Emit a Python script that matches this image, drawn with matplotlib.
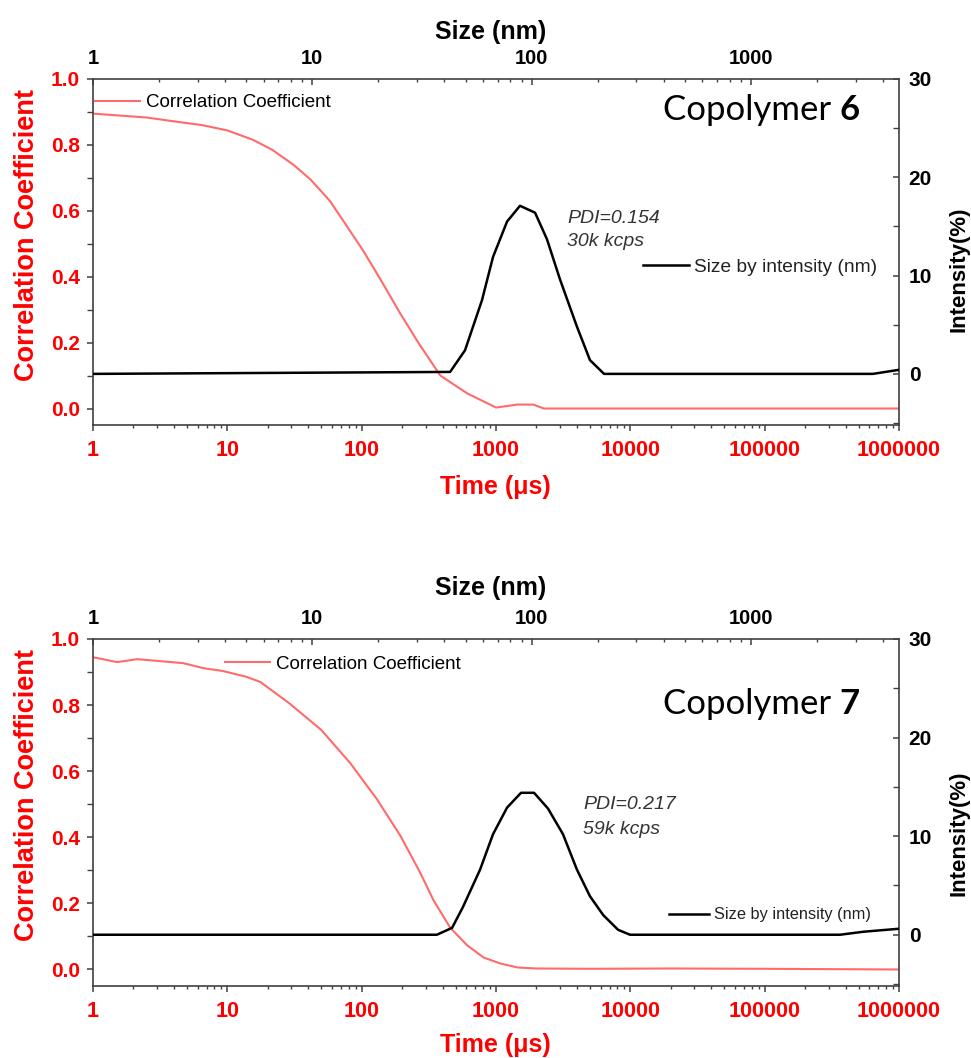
import numpy as np
import matplotlib
matplotlib.use("Agg")
import matplotlib.pyplot as plt
from matplotlib.ticker import FixedLocator, FixedFormatter, LogLocator, NullFormatter, MultipleLocator

# ---------------- data ----------------
# Copolymer 6 : correlation function vs time (us)
time6 = [1, 2.53, 4.08, 6.5, 10, 15.6, 21.6, 31, 41.6, 58, 78, 103, 137, 194,
         264, 385, 610, 1000, 1450, 1900, 2270, 8000, 1000000]
corr6 = [0.895, 0.883, 0.871, 0.860, 0.844, 0.815, 0.785, 0.740, 0.695, 0.630,
         0.552, 0.478, 0.394, 0.288, 0.200, 0.100, 0.046, 0.003, 0.012, 0.012,
         0.000, 0.000, 0.000]
# Copolymer 6 : size distribution by intensity
size6 = [1, 42.5, 49.7, 59.4, 66.7, 77.3, 88.5, 103.7, 117.5, 134.8, 161,
         184.6, 214, 3600, 4690]
int6 = [0, 0.2, 2.4, 7.5, 11.9, 15.5, 17.1, 16.4, 13.7, 9.6, 4.8, 1.4, 0, 0, 0.4]

# Copolymer 7 : correlation function vs time (us)
time7 = [1, 1.51, 2.13, 3.16, 4.68, 6.6, 9.3, 14, 17.6, 29, 50, 82, 130, 194,
         275, 342, 455, 610, 810, 1080, 1450, 2000, 5000, 20000, 100000, 1000000]
corr7 = [0.945, 0.930, 0.939, 0.933, 0.927, 0.912, 0.903, 0.885, 0.870, 0.805,
         0.725, 0.625, 0.515, 0.405, 0.290, 0.210, 0.127, 0.073, 0.036, 0.018,
         0.006, 0.003, 0.002, 0.003, 0.002, 0.000]
# Copolymer 7 : size distribution by intensity
size7 = [1, 37, 43.4, 48.6, 58.2, 66.7, 77.3, 89.5, 102.6, 118.8, 139, 161,
         184.6, 212, 248, 281, 2550, 3245, 4690]
int7 = [0, 0, 0.7, 2.8, 6.6, 10.2, 12.9, 14.4, 14.4, 12.8, 10.2, 6.6, 3.9,
        2.0, 0.5, 0, 0, 0.3, 0.6]

panels = [
    dict(time=time6, corr=corr6, size=size6, inten=int6, name="6",
         pdi="PDI=0.154", kcps="30k kcps"),
    dict(time=time7, corr=corr7, size=size7, inten=int7, name="7",
         pdi="PDI=0.217", kcps="59k kcps"),
]

time_ticks = [1, 10, 100, 1000, 10000, 100000, 1000000]
time_labels = ["1", "10", "100", "1000", "10000", "100000", "1000000"]
size_ticks = [1, 10, 100, 1000]
size_labels = ["1", "10", "100", "1000"]
corr_ticks = [0.0, 0.2, 0.4, 0.6, 0.8, 1.0]
corr_labels = ["0.0", "0.2", "0.4", "0.6", "0.8", "1.0"]
int_ticks = [0, 10, 20, 30]
int_labels = ["0", "10", "20", "30"]

# ---------------- style ----------------
FONT = "Liberation Sans"
RED_TXT = "#ff0000"
RED_LINE = "#ff6b6b"
SPINE = "#404040"

plt.rcParams["font.family"] = [FONT, "DejaVu Sans"]

fig = plt.figure(figsize=(9.71, 10.58), dpi=100)

W, H = 971, 1058
def rect(l, t, r, b):
    return [l / W, 1 - b / H, (r - l) / W, (b - t) / H]

rects = [rect(93, 79, 899, 425), rect(93, 639, 899, 986)]
copoly_pos = [(0.707, 0.910), (0.707, 0.813)]
pdi_pos = [(0.588, 0.598, 0.529), (0.608, 0.522, 0.452)]
leg_red = [(0.0025, 0.931), (0.164, 0.928)]
leg_blk = [(0.682, 0.457), (0.715, 0.205)]
leg_blk_fs = [13.8, 11.8]
left_lab_y = [0.55, 0.55]
right_lab_y = [0.45, 0.44]
time_lab_y = [-0.145, -0.136]
size_lab_y = [1.116, 1.128]

renderer = fig.canvas.get_renderer()

for i, p in enumerate(panels):
    ax = fig.add_axes(rects[i])
    ax2 = fig.add_axes(rects[i], frameon=False)

    # correlation (bottom x / left y)
    ax.plot(p["time"], p["corr"], color=RED_LINE, lw=1.5,
            label="Correlation Coefficient")
    ax.set_xscale("log")
    ax.set_xlim(1, 1e6)
    ax.set_ylim(-0.05, 1.0)
    ax.xaxis.set_major_locator(FixedLocator(time_ticks))
    ax.xaxis.set_major_formatter(FixedFormatter(time_labels))
    ax.xaxis.set_minor_locator(LogLocator(base=10, subs=np.arange(2, 10), numticks=20))
    ax.xaxis.set_minor_formatter(NullFormatter())
    ax.yaxis.set_major_locator(FixedLocator(corr_ticks))
    ax.yaxis.set_major_formatter(FixedFormatter(corr_labels))
    ax.yaxis.set_minor_locator(MultipleLocator(0.1))
    for s in ax.spines.values():
        s.set_color(SPINE)
        s.set_linewidth(1.2)
    ax.tick_params(axis="x", which="major", direction="out", length=4.5, width=1.1,
                   color=SPINE, labelsize=15.5, labelcolor=RED_TXT, pad=6)
    ax.tick_params(axis="x", which="minor", direction="out", length=2.5, width=1.0,
                   color=SPINE)
    ax.tick_params(axis="y", which="major", direction="out", length=4.5, width=1.1,
                   color=SPINE, labelsize=15, labelcolor=RED_TXT, pad=5)
    ax.tick_params(axis="y", which="minor", direction="out", length=4.5, width=1.0,
                   color=SPINE)
    for lab in ax.get_xticklabels() + ax.get_yticklabels():
        lab.set_fontweight("bold")
    ax.set_xlabel("Time (μs)", color=RED_TXT, fontsize=18, fontweight="bold")
    ax.xaxis.set_label_coords(0.499, time_lab_y[i])
    ax.set_ylabel("Correlation Coefficient", color=RED_TXT, fontsize=19.5,
                  fontweight="bold")
    ax.yaxis.set_label_coords(-0.066, left_lab_y[i])

    # size distribution (top x / right y)
    ax2.plot(p["size"], p["inten"], color="black", lw=1.8,
             label="Size by intensity (nm)")
    ax2.set_xscale("log")
    ax2.set_xlim(1, 10 ** (806 / 219.3))
    ax2.set_ylim(-5.2, 30)
    ax2.xaxis.tick_top()
    ax2.xaxis.set_label_position("top")
    ax2.yaxis.tick_right()
    ax2.yaxis.set_label_position("right")
    ax2.xaxis.set_major_locator(FixedLocator(size_ticks))
    ax2.xaxis.set_major_formatter(FixedFormatter(size_labels))
    ax2.xaxis.set_minor_locator(LogLocator(base=10, subs=np.arange(2, 10), numticks=20))
    ax2.xaxis.set_minor_formatter(NullFormatter())
    ax2.yaxis.set_major_locator(FixedLocator(int_ticks))
    ax2.yaxis.set_major_formatter(FixedFormatter(int_labels))
    ax2.yaxis.set_minor_locator(MultipleLocator(5))
    ax2.tick_params(axis="x", which="major", direction="in", length=4.5, width=1.1,
                    color=SPINE, labelsize=14.5, labelcolor="black", pad=8)
    ax2.tick_params(axis="x", which="minor", direction="in", length=2.5, width=1.0,
                    color=SPINE)
    ax2.tick_params(axis="y", which="major", direction="in", length=4.5, width=1.1,
                    color=SPINE, labelsize=15, labelcolor="black", pad=7)
    ax2.tick_params(axis="y", which="minor", direction="in", length=4.5, width=1.0,
                    color=SPINE)
    for lab in ax2.get_xticklabels() + ax2.get_yticklabels():
        lab.set_fontweight("bold")
    ax2.set_xlabel("Size (nm)", fontsize=18, fontweight="bold", color="black")
    ax2.xaxis.set_label_coords(0.493, size_lab_y[i])
    ax2.set_ylabel("Intensity(%)", fontsize=16, fontweight="bold", color="black")
    ax2.yaxis.set_label_coords(1.061, right_lab_y[i])

    # legends
    ax.legend(loc="center left", bbox_to_anchor=leg_red[i], frameon=False,
              fontsize=13.5, handlelength=2.4, handletextpad=0.3,
              borderpad=0, borderaxespad=0)
    lg2 = ax2.legend(loc="center left", bbox_to_anchor=leg_blk[i], frameon=False,
                     fontsize=leg_blk_fs[i], handlelength=2.4, handletextpad=0.3,
                     borderpad=0, borderaxespad=0)
    for t in lg2.get_texts():
        t.set_color("#222222")

    # annotations
    px, py1, py2 = pdi_pos[i]
    ax2.text(px, py1, p["pdi"], transform=ax2.transAxes, fontsize=14,
             style="italic", color="#333333", va="center", ha="left")
    ax2.text(px, py2, p["kcps"], transform=ax2.transAxes, fontsize=14,
             style="italic", color="#333333", va="center", ha="left")

    cx, cy = copoly_pos[i]
    t1 = ax2.text(cx, cy, "Copolymer ", transform=ax2.transAxes, fontsize=25,
                  family=["Lato", "DejaVu Sans"], va="center", ha="left")
    bb = t1.get_window_extent(renderer=renderer)
    x_end = ax2.transAxes.inverted().transform((bb.x1, bb.y0))[0]
    ax2.text(x_end, cy, p["name"], transform=ax2.transAxes, fontsize=25,
             family=["Lato", "DejaVu Sans"], fontweight="bold", va="center",
             ha="left")

fig.savefig("out.png", dpi=100)
